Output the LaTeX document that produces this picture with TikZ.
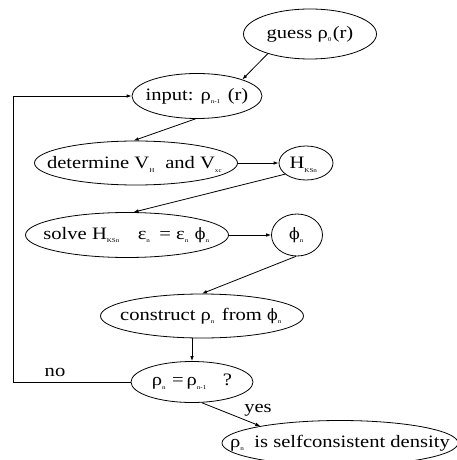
\documentclass[tikz,border=0pt]{standalone}
\usepackage{fontspec}
\setmainfont{Liberation Serif}[FakeStretch=1.18]
\newfontfamily\phifont{DejaVu Serif}[Scale=0.9]
\usetikzlibrary{shapes.geometric,arrows.meta}
% small lowered index, set in a box of fixed width
\newcommand{\lowsub}[2][6bp]{\makebox[#1][l]{\smash{\raisebox{-3.5bp}{\fontsize{6}{6}\selectfont #2}}}}
% label of zero width, so that the oval keeps the size it is given
\newcommand{\ovtext}[1]{\makebox[0pt]{#1}}
% straight-stroke phi
\newcommand{\wfn}{{\phifont ϕ}}
\begin{document}
\begin{tikzpicture}[x=1bp,y=-1bp,
  every node/.style={font=\fontsize{17.5}{19}\selectfont},
  oval/.style={draw,ellipse,line width=0.8bp,inner sep=0pt},
  arr/.style={line width=0.8bp,-{Latex[length=5bp,width=3.6bp]}},
  lbl/.style={inner sep=1bp}]
\useasboundingbox (0,0) rectangle (457,460);

\node[oval,minimum width=133bp,minimum height=50bp] (guess) at (310,34)
  {\ovtext{guess ρ\lowsub[5bp]{0}(r)}};
\node[oval,minimum width=130bp,minimum height=45bp] (input) at (197,96)
  {\ovtext{input: ρ\lowsub[17bp]{n-1}(r)}};
\node[oval,minimum width=203bp,minimum height=44bp] (det) at (136,163)
  {\ovtext{determine V\lowsub[16bp]{H}and V\lowsub[10bp]{xc}}};
\node[oval,minimum width=54bp,minimum height=34bp] (ham) at (306,163)
  {\ovtext{H\lowsub[18bp]{KSn}}};
\node[oval,minimum width=203bp,minimum height=45bp] (solve) at (127,235)
  {\ovtext{solve H\lowsub[31bp]{KSn}ε\lowsub[13bp]{n}= ε\lowsub[10bp]{n}\wfn\lowsub[5bp]{n}}};
\node[oval,minimum width=51bp,minimum height=42bp] (phi) at (297,235)
  {\ovtext{\wfn\lowsub[5bp]{n}}};
\node[oval,minimum width=203bp,minimum height=44bp] (cons) at (202,316)
  {\ovtext{construct ρ\lowsub[11bp]{n}from \wfn\lowsub[6bp]{n}}};
\node[oval,minimum width=122bp,minimum height=41bp] (check) at (192,382)
  {\ovtext{ρ\lowsub[10bp]{n}=\,ρ\lowsub[26bp]{n-1}?}};
\node[oval,minimum width=236bp,minimum height=45bp] (final) at (340,443)
  {\ovtext{ρ\lowsub[14bp]{n}is selfconsistent density}};

\coordinate (loop) at (13,382);

\draw[arr] (guess.205) -- (input.20);
\draw[arr] (input.266) -- (det.96);
\draw[arr] (det.east) -- (ham.west);
\draw[arr] (ham.208) -- (solve.74);
\draw[arr] (solve.east) -- (phi.west);
\draw[arr] (phi.267) -- (cons.90);
\draw[arr] (cons.south -| check.north) -- (check.north);
\draw[arr] (check.west) -- (loop) |- (input.west);
\draw[arr] (check.295) -- (final.168);

\node[lbl,anchor=south] (no) at (55,378) {no};
\node[lbl] (yes) at (258,410) {yes};
\end{tikzpicture}
\end{document}
